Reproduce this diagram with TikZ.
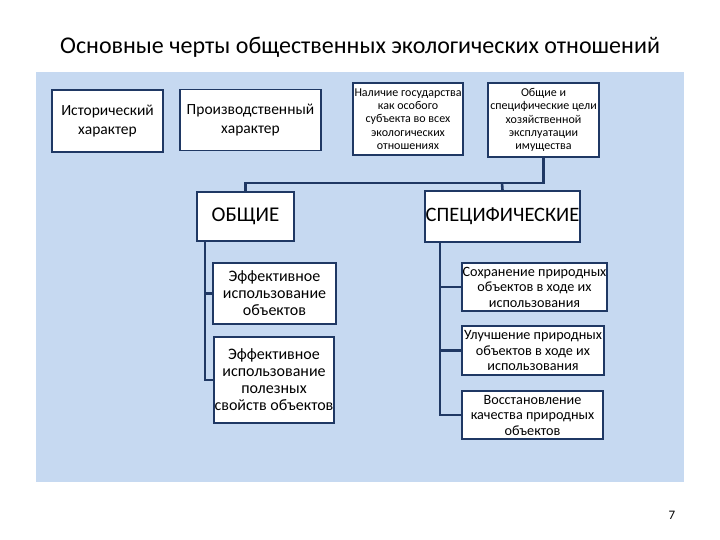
\documentclass[tikz,border=0pt]{standalone}
\usepackage{fontspec}
\setmainfont{Carlito}
\definecolor{panel}{RGB}{198,217,241}
\definecolor{navy}{RGB}{31,56,100}
\begin{document}
\begin{tikzpicture}[x=1pt,y=-1pt,
  box/.style={draw=navy,line width=1.8pt,fill=white,inner sep=0pt,align=center,anchor=center},
  conn/.style={draw=navy,line width=2.6pt},
  t15/.style={font=\fontsize{15.5}{19}\selectfont},
  t16/.style={font=\fontsize{16}{17}\selectfont},
  t14/.style={font=\fontsize{14.2}{15.5}\selectfont},
  t12/.style={font=\fontsize{12}{13.3}\selectfont}]
\fill[white] (0,0) rectangle (720,540);
\useasboundingbox (0,0) rectangle (720,540);
\fill[panel] (36,72) rectangle (684,482);
\node[font=\fontsize{24}{28}\selectfont] (title) at (360,47) {Основные черты общественных экологических отношений};
\node[font=\fontsize{13}{15}\selectfont] (pg) at (672,515) {7};
% top row
\node[box,t15,minimum width=111pt,minimum height=62pt] (b1) at (107.5,121) {Исторический\\характер};
\node[box,t15,minimum width=141pt,minimum height=61pt] (b2) at (250.5,120) {Производственный\\характер};
\node[box,t12,minimum width=110pt,minimum height=72pt] (b3) at (408,119) {Наличие государства\\как особого\\субъекта во всех\\экологических\\отношениях};
\node[box,t12,minimum width=111pt,minimum height=74pt] (b4) at (543.5,120) {Общие и\\специфические цели\\хозяйственной\\эксплуатации\\имущества};
% middle
\node[box,font=\fontsize{21}{24}\selectfont,minimum width=97pt,minimum height=49pt] (obsh) at (245.5,216.5) {ОБЩИЕ};
\node[box,font=\fontsize{20.5}{24}\selectfont,minimum width=155pt,minimum height=51pt] (spec) at (502.5,216.5) {СПЕЦИФИЧЕСКИЕ};
% left column
\node[box,t16,minimum width=123pt,minimum height=61pt] (e1) at (274.5,293.5) {Эффективное\\использование\\объектов};
\node[box,t16,minimum width=120pt,minimum height=86pt] (e2) at (274,380) {Эффективное\\использование\\полезных\\свойств объектов};
% right column
\node[box,t14,minimum width=145pt,minimum height=48pt] (s1) at (534.5,287) {Сохранение природных\\объектов в ходе их\\использования};
\node[box,t14,minimum width=142pt,minimum height=49pt] (s2) at (533,350.5) {Улучшение природных\\объектов в ходе их\\использования};
\node[box,t14,minimum width=141pt,minimum height=48pt] (s3) at (532.5,415) {Восстановление\\качества природных\\объектов};
% connectors
\coordinate (junc) at (502,183);
\draw[conn] (obsh.north) |- (junc) -| (b4.south);
\draw[conn] (junc) -- (spec.north);
\coordinate (lt) at ([xshift=9pt]obsh.south west);
\draw[conn] (lt) |- (e2.west);
\draw[conn] (lt |- e1.west) -- (e1.west);
\coordinate (rt) at ([xshift=16pt]spec.south west);
\draw[conn] (rt) |- (s3.west);
\draw[conn] (rt |- s1.west) -- (s1.west);
\draw[conn] (rt |- s2.west) -- (s2.west);
\end{tikzpicture}
\end{document}
